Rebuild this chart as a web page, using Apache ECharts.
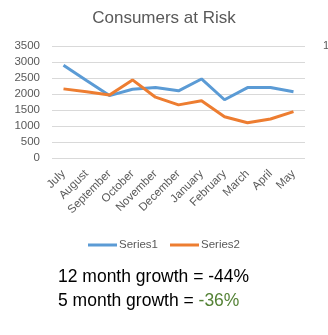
<!DOCTYPE html>
<html><head><meta charset="utf-8">
<script src="https://cdn.jsdelivr.net/npm/echarts@6/dist/echarts.min.js"></script>
<style>html,body{margin:0;padding:0;background:#fff}#c{width:328px;height:335px}</style>
</head><body><div id="c"></div>
<script>
var categories = ['July','August','September','October','November','December','January','February','March','April','May'];
var series1 = [2900, 2420, 1950, 2150, 2200, 2100, 2470, 1820, 2200, 2200, 2070];
var series2 = [2160, 2070, 1970, 2440, 1900, 1660, 1790, 1290, 1100, 1220, 1450];
var yTicks = {min: 0, max: 3500, interval: 500};
var title = 'Consumers at Risk';
var note1 = '12 month growth = -44%';
var note2a = '5 month growth = ';
var note2b = '-36%';

var font = 'Liberation Sans';
var chart = echarts.init(document.getElementById('c'), null, {renderer: 'canvas'});
chart.setOption({
  animation: false,
  title: {text: title, left: 'center', top: 5, textStyle: {fontFamily: font, fontSize: 17, fontWeight: 'normal', color: '#595959'}},
  grid: {left: 52, right: 23, top: 46, bottom: 177, containLabel: false},
  xAxis: {type: 'category', data: categories, boundaryGap: true,
    axisLine: {show: false}, axisTick: {show: false},
    axisLabel: {rotate: 45, interval: 0, margin: 14, fontFamily: font, fontSize: 11.5, color: '#595959'}},
  yAxis: {type: 'value', min: yTicks.min, max: yTicks.max, interval: yTicks.interval,
    axisLine: {show: false}, axisTick: {show: false},
    splitLine: {lineStyle: {color: '#d9d9d9', width: 1}},
    axisLabel: {margin: 12, fontFamily: font, fontSize: 11.5, color: '#595959', formatter: function(v){return String(v);}}},
  legend: {top: 234, left: 'center', itemWidth: 29, itemHeight: 3, itemGap: 12, icon: 'rect',
    textStyle: {fontFamily: font, fontSize: 11.5, color: '#595959', padding: [0,0,0,-3]},
    data: ['Series1','Series2']},
  series: [
    {name: 'Series1', type: 'line', data: series1, symbol: 'none', lineStyle: {width: 3, color: '#5B9BD5'}, itemStyle: {color: '#5B9BD5'}},
    {name: 'Series2', type: 'line', data: series2, symbol: 'none', lineStyle: {width: 3, color: '#ED7D31'}, itemStyle: {color: '#ED7D31'}}
  ],
  graphic: [
    {type: 'text', left: 58, top: 268, style: {text: note1, fontFamily: font, fontSize: 17.5, fill: '#000'}},
    {type: 'text', left: 58, top: 292, style: {rich: {a: {fontFamily: font, fontSize: 17.5, fill: '#000'}, b: {fontFamily: font, fontSize: 17.5, fill: '#548235'}}, text: '{a|' + note2a + '}{b|' + note2b + '}'}},
    {type: 'text', left: 323, top: 40, style: {text: '1', fontFamily: font, fontSize: 11, fill: '#595959'}}
  ]
});
</script></body></html>
